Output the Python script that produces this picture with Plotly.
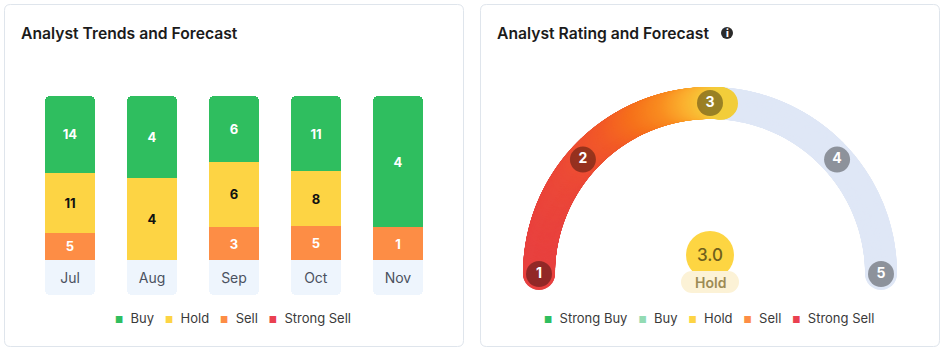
import numpy as np
import plotly.graph_objects as go

W, H = 944, 351

# ---------------- data ----------------
months = ["Jul", "Aug", "Sep", "Oct", "Nov"]
buy = [14, 4, 6, 11, 4]
hold = [11, 4, 6, 8, 0]
sell = [5, 0, 3, 5, 1]
strong_sell = [0, 0, 0, 0, 0]

left_legend = ["Buy", "Hold", "Sell", "Strong Sell"]
right_legend = ["Strong Buy", "Buy", "Hold", "Sell", "Strong Sell"]

rating_value = 3.0
rating_label = "Hold"
rating_ticks = [1, 2, 3, 4, 5]

# ---------------- style ----------------
FONT = "Inter"
GREEN = "#2fbe5f"
LIGHTGREEN = "#93dbb3"
YELLOW = "#fdd444"
ORANGE = "#fd8d45"
RED = "#ea4050"
LABEL_BG = "#eef5fd"
BORDER = "#dfe5ec"
TEXT_DARK = "#1b1b1b"

legend_colors = {"Strong Buy": GREEN, "Buy": GREEN, "Hold": YELLOW, "Sell": ORANGE, "Strong Sell": RED}
right_legend_colors = {"Strong Buy": GREEN, "Buy": LIGHTGREEN, "Hold": YELLOW, "Sell": ORANGE, "Strong Sell": RED}

TICK_ANGLES = [180, 138, 90, 42, 0]
GX, GY, GR = 710, 274, 171
ARC_W = 32


def px(x):
    return x / W


def py(y):
    return 1 - y / H


def rrect(x0, y0, x1, y1, r):
    pts = [
        ("M", [(x0 + r, y0)]), ("L", [(x1 - r, y0)]), ("Q", [(x1, y0), (x1, y0 + r)]),
        ("L", [(x1, y1 - r)]), ("Q", [(x1, y1), (x1 - r, y1)]), ("L", [(x0 + r, y1)]),
        ("Q", [(x0, y1), (x0, y1 - r)]), ("L", [(x0, y0 + r)]), ("Q", [(x0, y0), (x0 + r, y0)]),
    ]
    s = ""
    for cmd, ps in pts:
        s += cmd + " " + " ".join(f"{px(a):.5f},{py(b):.5f}" for a, b in ps) + " "
    return s + "Z"


def lbl(vals):
    return [str(v) if v else "" for v in vals]


fig = go.Figure()

# ---------------- stacked bars (left) ----------------
series = [
    ("Strong Sell", strong_sell, RED, "white"),
    ("Sell", sell, ORANGE, "white"),
    ("Hold", hold, YELLOW, "#111111"),
    ("Buy", buy, GREEN, "white"),
]
for name, vals, col, tcol in series:
    fig.add_trace(go.Bar(
        x=months, y=vals, name=name, marker=dict(color=col, line=dict(width=0)),
        text=lbl(vals), textposition="inside", insidetextanchor="middle", textangle=0,
        textfont=dict(family=FONT, size=13, color=tcol, weight=700),
        xaxis="x", yaxis="y", showlegend=False, hoverinfo="skip",
    ))

# month label boxes (grow downward on a reversed axis)
fig.add_trace(go.Bar(
    x=months, y=[1] * len(months), marker=dict(color=LABEL_BG, line=dict(width=0)),
    text=months, textposition="inside", insidetextanchor="middle", textangle=0,
    textfont=dict(family=FONT, size=14, color="#4a5160"),
    xaxis="x", yaxis="y2", showlegend=False, hoverinfo="skip",
))

# ---------------- gauge (right) ----------------
def ang(v):
    return np.interp(v, rating_ticks, TICK_ANGLES)


def arc_xy(a_deg):
    a = np.radians(a_deg)
    return GX + GR * np.cos(a), GY - GR * np.sin(a)


ga = np.linspace(0, 180, 500)
gx, gy = arc_xy(ga)
fig.add_trace(go.Scatter(
    x=gx, y=gy, mode="markers", marker=dict(size=ARC_W, color="#dfe7f6", line=dict(width=0)),
    xaxis="x3", yaxis="y3", showlegend=False, hoverinfo="skip",
))

ca = np.linspace(180, ang(rating_value) - 4, 500)
cx, cy = arc_xy(ca)
fig.add_trace(go.Scatter(
    x=cx, y=cy, mode="markers",
    marker=dict(size=ARC_W, color=cx, cmin=GX - GR, cmax=GX + 24, line=dict(width=0),
                colorscale=[[0, "#e8403f"], [0.2, "#ec4a36"], [0.4, "#f25a27"], [0.55, "#f6711b"],
                            [0.7, "#f98d20"], [0.82, "#fbb02f"], [0.92, "#f6ca3a"], [1, "#e3d83b"]]),
    xaxis="x3", yaxis="y3", showlegend=False, hoverinfo="skip",
))

tx, ty = arc_xy(ang(np.array(rating_ticks, dtype=float)))
fig.add_trace(go.Scatter(
    x=tx, y=ty, mode="markers+text", text=[str(t) for t in rating_ticks],
    textposition="middle center", textfont=dict(family=FONT, size=14, color="white", weight=700),
    marker=dict(size=26, color="rgba(0,0,0,0.37)", line=dict(width=0)),
    xaxis="x3", yaxis="y3", showlegend=False, hoverinfo="skip",
))

# ---------------- layout ----------------
shapes = [
    dict(type="path", xref="paper", yref="paper", path=rrect(4.5, 4.5, 463.5, 346.5, 6),
         line=dict(color=BORDER, width=1), fillcolor="white", layer="below"),
    dict(type="path", xref="paper", yref="paper", path=rrect(480.5, 4.5, 939.5, 346.5, 6),
         line=dict(color=BORDER, width=1), fillcolor="white", layer="below"),
    # info icon
    dict(type="circle", xref="paper", yref="paper", x0=px(721), x1=px(733), y0=py(39), y1=py(27),
         fillcolor="#2b2b2b", line=dict(width=0)),
    # centre score bubble
    dict(type="circle", xref="x3", yref="y3", x0=GX - 24, x1=GX + 24, y0=231, y1=279,
         fillcolor="#fdd542", line=dict(width=0), layer="above"),
    dict(type="rect", xref="x3", yref="y3", x0=GX - 18, x1=GX + 18, y0=271, y1=293,
         fillcolor="#fcf2d6", line=dict(width=0), layer="above"),
    dict(type="circle", xref="x3", yref="y3", x0=GX - 29, x1=GX - 7, y0=271, y1=293,
         fillcolor="#fcf2d6", line=dict(width=0), layer="above"),
    dict(type="circle", xref="x3", yref="y3", x0=GX + 7, x1=GX + 29, y0=271, y1=293,
         fillcolor="#fcf2d6", line=dict(width=0), layer="above"),
]


def legend_text(items, colors):
    parts = []
    for it in items:
        parts.append(f'<span style="color:{colors[it]};font-size:9px">■</span>  {it}')
    return "   ".join(parts)


annotations = [
    dict(text="Analyst Trends and Forecast", x=px(19), y=py(33), xref="paper", yref="paper",
         xanchor="left", yanchor="middle", showarrow=False,
         font=dict(family=FONT, size=15.7, color=TEXT_DARK, weight=600)),
    dict(text="Analyst Rating and Forecast", x=px(495), y=py(33), xref="paper", yref="paper",
         xanchor="left", yanchor="middle", showarrow=False,
         font=dict(family=FONT, size=15.7, color=TEXT_DARK, weight=600)),
    dict(text="i", x=px(727), y=py(33), xref="paper", yref="paper", showarrow=False,
         xanchor="center", yanchor="middle", font=dict(family=FONT, size=10, color="white", weight=800)),
    dict(text=legend_text(left_legend, legend_colors), x=px(233), y=py(318), xref="paper", yref="paper",
         showarrow=False, xanchor="center", yanchor="middle",
         font=dict(family=FONT, size=13, color="#3a3a3a")),
    dict(text=legend_text(right_legend, right_legend_colors), x=px(709), y=py(318), xref="paper",
         yref="paper", showarrow=False, xanchor="center", yanchor="middle",
         font=dict(family=FONT, size=13, color="#3a3a3a")),
    dict(text=f"{rating_value:.1f}", x=GX, y=255, xref="x3", yref="y3", showarrow=False,
         font=dict(family=FONT, size=17, color="#6f5f1c", weight=500)),
    dict(text=rating_label, x=GX, y=282.5, xref="x3", yref="y3", showarrow=False,
         font=dict(family=FONT, size=14, color="#9c8b55", weight=600)),
]

fig.update_layout(
    width=W, height=H, margin=dict(l=0, r=0, t=0, b=0),
    paper_bgcolor="white", plot_bgcolor="rgba(0,0,0,0)",
    barmode="stack", barnorm="percent", bargap=0.39, barcornerradius=5,
    showlegend=False, hovermode=False,
    font=dict(family=FONT),
    xaxis=dict(domain=[px(29), px(439)], visible=False, fixedrange=True),
    yaxis=dict(domain=[py(260), py(96)], range=[0, 100], visible=False, fixedrange=True),
    yaxis2=dict(domain=[py(295), py(260)], range=[100, 0], visible=False, anchor="x", fixedrange=True),
    xaxis3=dict(domain=[px(481), px(939)], range=[481, 939], visible=False, anchor="y3", fixedrange=True),
    yaxis3=dict(domain=[0, 1], range=[H, 0], visible=False, anchor="x3", fixedrange=True),
    shapes=shapes, annotations=annotations,
)

fig.write_html("out.html", config={"displayModeBar": False})
